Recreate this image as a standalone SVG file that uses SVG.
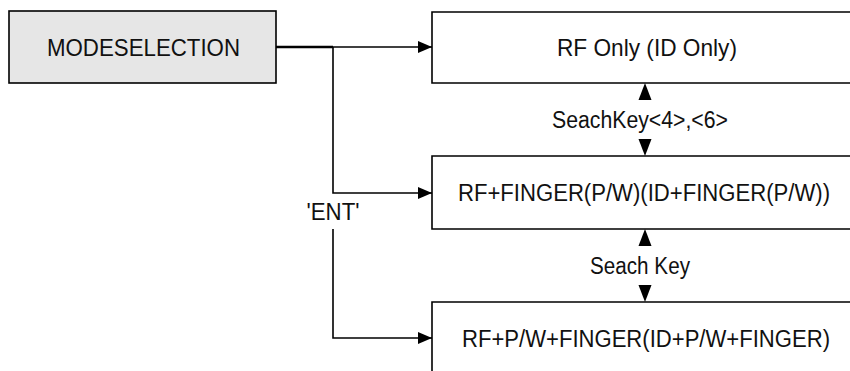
<svg xmlns="http://www.w3.org/2000/svg" xmlns:xlink="http://www.w3.org/1999/xlink" width="850" height="371" viewBox="0 0 850 371">
<style>
.box{fill:#ffffff;stroke:#000;stroke-width:1.6}
.start{fill:#e6e6e6;stroke:#000;stroke-width:1.6}
.t{font-family:"Liberation Sans",Arial,sans-serif;font-size:24px;fill:#111;text-anchor:middle}
.t2{font-family:"Liberation Sans",Arial,sans-serif;font-size:23px;fill:#111;text-anchor:middle}
.lbl{font-family:"Liberation Sans",Arial,sans-serif;font-size:23px;fill:#111;text-anchor:middle}
.wire{fill:none;stroke:#000;stroke-width:1.6}
.thick{fill:none;stroke:#000;stroke-width:2.6}
.head{fill:#000}
</style>
<defs>
<marker id="arr" markerWidth="14" markerHeight="12" refX="14" refY="6" orient="auto" markerUnits="userSpaceOnUse">
<path d="M0,0 L14,6 L0,12 Z" fill="#000"/>
</marker>
<path id="up" d="M0,0 L6.5,17 L-6.5,17 Z"/>
<path id="down" d="M0,0 L6.5,-17 L-6.5,-17 Z"/>
</defs>
<g id="connectors">
<path class="thick" d="M276,47 H333"/>
<path class="wire" d="M333,47 H432" marker-end="url(#arr)"/>
<path class="wire" d="M333,47 V193 H432" marker-end="url(#arr)"/>
<path class="wire" d="M333,229 V338 H432" marker-end="url(#arr)"/>
<text class="lbl" x="333" y="220" textLength="53" lengthAdjust="spacingAndGlyphs">'ENT'</text>
<use href="#up" xlink:href="#up" class="head" x="645" y="83"/>
<use href="#down" xlink:href="#down" class="head" x="645" y="156"/>
<text class="lbl" x="640" y="128" textLength="176" lengthAdjust="spacingAndGlyphs">SeachKey&lt;4&gt;,&lt;6&gt;</text>
<use href="#up" xlink:href="#up" class="head" x="645" y="229"/>
<use href="#down" xlink:href="#down" class="head" x="645" y="302"/>
<text class="lbl" x="640" y="274" textLength="100" lengthAdjust="spacingAndGlyphs">Seach Key</text>
</g>
<g id="mode">
<rect class="start" x="9" y="11" width="267" height="72"/>
<text class="t" x="143.5" y="56" textLength="193" lengthAdjust="spacingAndGlyphs">MODESELECTION</text>
</g>
<g id="rf-only">
<path class="box" d="M851,12 H432 V83 H851"/>
<text class="t" x="647" y="56" textLength="180" lengthAdjust="spacingAndGlyphs">RF Only (ID Only)</text>
</g>
<g id="rf-finger">
<path class="box" d="M851,156 H432 V229 H851"/>
<text class="t2" x="644" y="201" textLength="372" lengthAdjust="spacingAndGlyphs">RF+FINGER(P/W)(ID+FINGER(P/W))</text>
</g>
<g id="rf-pw-finger">
<path class="box" d="M851,302 H432 V372"/>
<text class="t2" x="646" y="346.5" textLength="368" lengthAdjust="spacingAndGlyphs">RF+P/W+FINGER(ID+P/W+FINGER)</text>
</g>
</svg>
